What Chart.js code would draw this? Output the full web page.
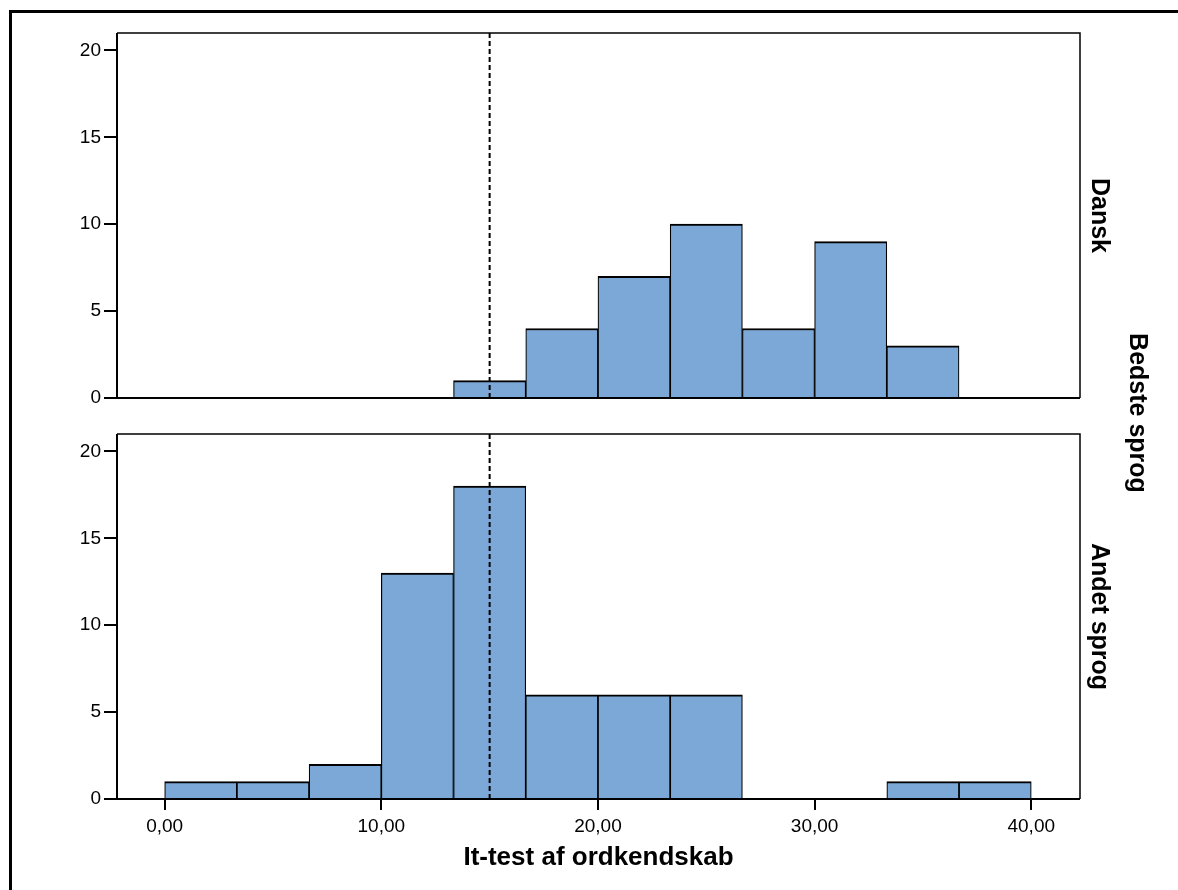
<!DOCTYPE html>
<html><head><meta charset="utf-8">
<script src="https://cdn.jsdelivr.net/npm/chart.js@4.4.1/dist/chart.umd.min.js"></script>
<style>
html,body{margin:0;padding:0;background:#fff;}
#wrap{position:relative;width:1178px;height:890px;overflow:hidden;background:#fff;}
canvas{position:absolute;left:0;top:0;}
#frame{position:absolute;left:9px;top:10px;width:1200px;height:900px;border-left:3px solid #000;border-top:3px solid #000;}
</style></head>
<body><div id="wrap"><div id="frame"></div><canvas id="c1" width="1178" height="890"></canvas><canvas id="c2" width="1178" height="890"></canvas></div>
<script>
// ---- data ----
const binEdges = [0, 3.333, 6.667, 10, 13.333, 16.667, 20, 23.333, 26.667, 30, 33.333, 36.667, 40];
const countsDansk = [0, 0, 0, 0, 1, 4, 7, 10, 4, 9, 3, 0];
const countsAndet = [1, 1, 2, 13, 18, 6, 6, 6, 0, 0, 1, 1];
const panelLabels = ['Dansk', 'Andet sprog'];
const facetTitle = 'Bedste sprog';
const xTitle = 'It-test af ordkendskab';
const xTicks = [0, 10, 20, 30, 40];
const yTicks = [0, 5, 10, 15, 20];
const refLine = 15;

const FAMILY = '"Liberation Sans", Arial, Helvetica, sans-serif';

const panelPlugin = {
  id: 'panel',
  afterDatasetsDraw(chart, args, opts) {
    const {ctx, chartArea: a, scales: {x}} = chart;
    ctx.save();
    const px = x.getPixelForValue(refLine);
    ctx.strokeStyle = '#000';
    ctx.lineWidth = 2;
    ctx.setLineDash([5, 3]);
    ctx.beginPath(); ctx.moveTo(px, a.top); ctx.lineTo(px, a.bottom); ctx.stroke();
    ctx.setLineDash([]);
    ctx.lineWidth = 1.5;
    ctx.beginPath(); ctx.moveTo(a.left, a.top); ctx.lineTo(a.right, a.top); ctx.lineTo(a.right, a.bottom); ctx.stroke();
    ctx.lineWidth = 2;
    ctx.beginPath(); ctx.moveTo(a.left, a.top); ctx.lineTo(a.left, a.bottom); ctx.lineTo(a.right, a.bottom); ctx.stroke();
    ctx.fillStyle = '#000';
    ctx.font = 'bold 25px ' + FAMILY;
    ctx.textAlign = 'center';
    ctx.textBaseline = 'middle';
    ctx.save();
    ctx.translate(a.right + 19, (a.top + a.bottom) / 2);
    ctx.rotate(Math.PI / 2);
    ctx.fillText(opts.label, 0, 0);
    ctx.restore();
    if (opts.facet) {
      ctx.save();
      ctx.translate(1137, 413);
      ctx.rotate(Math.PI / 2);
      ctx.fillText(opts.facet, 0, 0);
      ctx.restore();
    }
    ctx.restore();
  }
};

function fmt(v) { return v.toFixed(2).replace('.', ','); }

function makeChart(id, counts, cfg) {
  const points = counts.map((c, i) => ({x: (binEdges[i] + binEdges[i + 1]) / 2, y: c}));
  return new Chart(document.getElementById(id), {
    type: 'bar',
    data: {datasets: [{
      data: points,
      backgroundColor: '#7BA8D6',
      borderColor: '#000',
      borderWidth: {top: 2, left: 1.2, right: 1.2, bottom: 0},
      borderSkipped: 'start',
      barPercentage: 1,
      categoryPercentage: 1
    }]},
    options: {
      responsive: false,
      animation: false,
      devicePixelRatio: 1,
      layout: {padding: cfg.padding},
      plugins: {
        legend: {display: false},
        tooltip: {enabled: false},
        panel: {label: cfg.label, facet: cfg.facet}
      },
      scales: {
        x: {
          type: 'linear',
          min: -2.2, max: 42.25,
          offset: false,
          display: cfg.showX,
          afterBuildTicks(s) { s.ticks = xTicks.map(v => ({value: v})); },
          ticks: {color: '#000', font: {family: FAMILY, size: 19}, padding: 5, maxRotation: 0, callback: v => fmt(v)},
          grid: {offset: false, drawOnChartArea: false, tickLength: 11, lineWidth: 2, color: '#000'},
          border: {display: false},
          title: {display: true, text: xTitle, color: '#000', font: {family: FAMILY, size: 26, weight: 'bold'}, padding: {top: 0, bottom: 0}},
          afterFit(s) { s.height = s.options.display ? 74 : 0; s.paddingLeft = 0; s.paddingRight = 0; }
        },
        y: {
          min: 0, max: 21,
          afterBuildTicks(s) { s.ticks = yTicks.map(v => ({value: v})); },
          ticks: {color: '#000', font: {family: FAMILY, size: 19}, padding: 3},
          grid: {drawOnChartArea: false, tickLength: 13, lineWidth: 2, color: '#000'},
          border: {display: false},
          afterFit(s) { s.width = 60; s.paddingTop = 0; s.paddingBottom = 0; }
        }
      }
    },
    plugins: [panelPlugin]
  });
}

makeChart('c1', countsDansk, {padding: {left: 57, right: 98, top: 33, bottom: 492}, label: panelLabels[0], showX: false});
makeChart('c2', countsAndet, {padding: {left: 57, right: 98, top: 434, bottom: 17}, label: panelLabels[1], facet: facetTitle, showX: true});
</script>
</body></html>
